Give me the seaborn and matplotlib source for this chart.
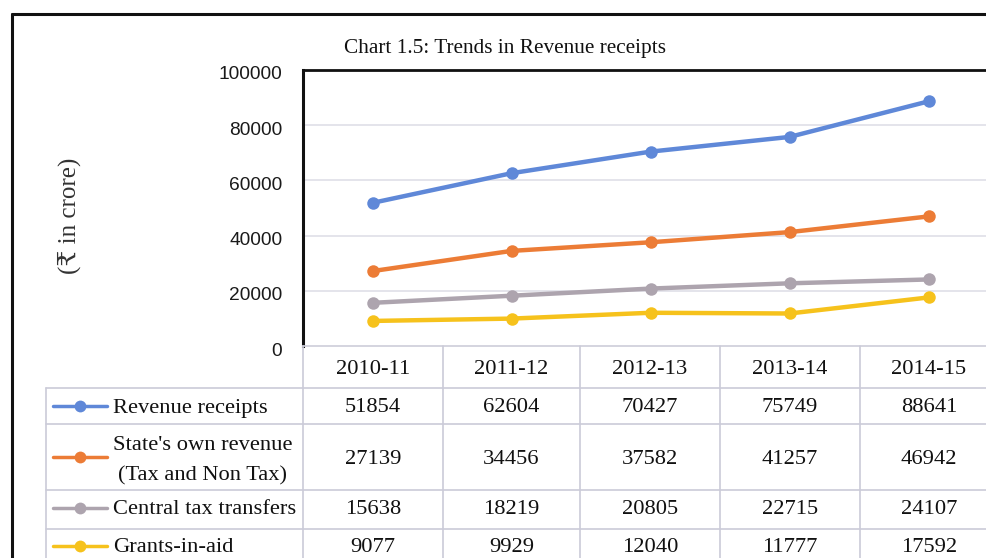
import matplotlib
matplotlib.use("Agg")
import matplotlib.pyplot as plt
import matplotlib.transforms as mtransforms
from matplotlib.lines import Line2D
import seaborn as sns
import pandas as pd

years = ["2010-11", "2011-12", "2012-13", "2013-14", "2014-15"]
revenue_receipts = [51854, 62604, 70427, 75749, 88641]
own_revenue = [27139, 34456, 37582, 41257, 46942]
central_transfers = [15638, 18219, 20805, 22715, 24107]
grants_in_aid = [9077, 9929, 12040, 11777, 17592]
series_names = ["Revenue receipts", "State's own revenue\n(Tax and Non Tax)",
                "Central tax transfers", "Grants-in-aid"]
series_values = [revenue_receipts, own_revenue, central_transfers, grants_in_aid]
colors = ["#5F88D8", "#EC7C36", "#ADA4AE", "#F6C21C"]
yticks = [0, 20000, 40000, 60000, 80000, 100000]

sns.set_theme(style="white")
plt.rcParams["font.family"] = ["Liberation Serif", "DejaVu Serif"]

W, H = 986, 558
fig = plt.figure(figsize=(W / 100, H / 100), dpi=100)
fig.patch.set_facecolor("white")

def fx(px):
    return px / W

def fy(py):
    return 1 - py / H

# plot axes (right edge cropped by figure)
x0, x1, ytop, ybot = 303, 998, 70, 346
ax = fig.add_axes([fx(x0), fy(ybot), fx(x1) - fx(x0), (ybot - ytop) / H])

rows = []
for name, vals in zip(series_names, series_values):
    for i, v in enumerate(vals):
        rows.append({"series": name, "x": i, "value": v})
df = pd.DataFrame(rows)

sns.lineplot(data=df, x="x", y="value", hue="series", palette=colors,
             marker="o", markersize=9, markeredgewidth=0, linewidth=3.2,
             ax=ax, legend=False, zorder=3)

ax.set_xlim(-0.5, 4.5)
ax.set_ylim(0, 100000)
ax.set_yticks(yticks)
ax.set_yticklabels([str(t) for t in yticks], family="Liberation Sans",
                   fontsize=13.8, color="#1a1a1a")
ax.tick_params(axis="y", length=0, pad=15)
shift = mtransforms.ScaledTranslation(0, -3 / 100, fig.dpi_scale_trans)
for lbl in ax.get_yticklabels():
    lbl.set_transform(lbl.get_transform() + shift)
ax.set_xticks([])
ax.set_xlabel("")
ax.set_ylabel("")
for t in yticks[1:-1]:
    ax.axhline(t, color="#dcdce6", linewidth=1.1, zorder=1)
ax.spines["left"].set_color("#111111")
ax.spines["left"].set_linewidth(2.2)
ax.spines["top"].set_color("#111111")
ax.spines["top"].set_linewidth(2.0)
ax.spines["right"].set_visible(False)
ax.spines["bottom"].set_color("#cdcdd9")
ax.spines["bottom"].set_linewidth(1.2)

# title and y label
fig.text(fx(505), fy(49), "Chart 1.5: Trends in Revenue receipts",
         ha="center", va="center", fontsize=15.3, color="#111111")
fig.text(fx(69), fy(216), "(\u20b9 in crore)", ha="center", va="center",
         rotation=90, fontsize=18, color="#333333")

# outer frame
fig.add_artist(Line2D([fx(12), fx(12)], [fy(14), fy(570)], color="#111111", lw=2.2))
fig.add_artist(Line2D([fx(12), fx(1000)], [fy(14), fy(14)], color="#111111", lw=2.2))

# table grid
grid_c = "#cbcbd8"
col_edges = [303, 443, 580, 720, 860, 998]
row_edges = [346, 388, 424, 490, 529, 570]
for yy in row_edges[1:-1]:
    fig.add_artist(Line2D([fx(46), fx(1000)], [fy(yy), fy(yy)], color=grid_c, lw=1.2))
fig.add_artist(Line2D([fx(46), fx(46)], [fy(388), fy(570)], color=grid_c, lw=1.2))
for xx in col_edges[:-1]:
    fig.add_artist(Line2D([fx(xx), fx(xx)], [fy(346), fy(570)], color=grid_c, lw=1.2))

fs = 16.2
dy = 2
# header
for i, yr in enumerate(years):
    cx = (col_edges[i] + col_edges[i + 1]) / 2
    fig.text(fx(cx), fy(367 + dy), yr, ha="center", va="center", fontsize=fs, color="#111111")

# rows
row_centers = [406, 457, 508, 546]
for r, (name, vals, c) in enumerate(zip(series_names, series_values, colors)):
    cy = row_centers[r]
    last = r == len(series_names) - 1
    ty = fy(552) if last else fy(cy + dy)
    tva = "baseline" if last else "center"
    fig.add_artist(Line2D([fx(53), fx(107)], [fy(cy), fy(cy)], color=c, lw=2.5))
    fig.add_artist(Line2D([fx(80)], [fy(cy)], color=c, marker="o", markersize=8.5,
                          markeredgewidth=0))
    if "\n" in name:
        first, second = name.split("\n")
        fig.text(fx(113), fy(cy - 14 + dy), first, ha="left", va="center",
                 fontsize=fs, color="#111111")
        fig.text(fx(118), fy(cy + 17 + dy), second, ha="left", va="center",
                 fontsize=fs, color="#111111")
    else:
        fig.text(fx(113), ty, name, ha="left", va=tva,
                 fontsize=fs, color="#111111")
    for i, v in enumerate(vals):
        cx = (col_edges[i] + col_edges[i + 1]) / 2
        fig.text(fx(cx), ty, str(v), ha="center", va=tva,
                 fontsize=fs, color="#111111")

fig.savefig("out.png", dpi=100, facecolor="white")
